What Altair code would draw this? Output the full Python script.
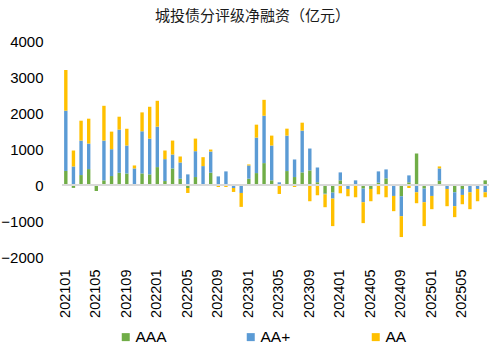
import altair as alt
import pandas as pd

months = [f"{y}{m:02d}" for y in (2021, 2022, 2023, 2024) for m in range(1, 13)] + \
         [f"2025{m:02d}" for m in range(1, 9)]

aaa = [390, -80, 276, 442, -166, 129, 249, 341, 322, 0, 322, 295,
       497, 110, 460, 175, -83, 221, 0, 341, 0, 0, 0, -25,
       175, 331, 608, 129, 0, 387, 221, 350, 405, 74, -240, -212,
       129, 0, 0, -101, -110, 64, 184, 0, -313, 74, 875, -101,
       0, 120, 0, -203, -110, 0, 0, 129]
aa_plus = [1675, 515, 958, 709, 0, 1105, 745, 1197, 774, 460, 1170, 994,
           1124, 608, 387, 451, 295, 718, 525, 589, 239, 378, -83, -196,
           368, 986, 1316, 967, 74, 985, 488, 1160, 608, 414, -20, -166,
           221, -110, 129, -378, 0, 314, 249, -304, -553, 193, -203, -378,
           -304, 340, -110, -386, -166, -203, -110, -203]
aa = [1130, 443, 552, 691, 0, 966, 489, 359, 469, 83, 525, 884,
      718, 240, 387, 166, -138, 350, 248, 55, -55, -55, -110, -387,
      28, 359, 442, 276, -249, 193, -55, 221, -451, -285, -357, -764,
      -230, -203, -341, -580, -341, -258, -341, -423, -580, -83, -303, -663,
      -368, 56, -479, -304, -258, -469, -341, -138]

series = ["AAA", "AA+", "AA"]
colors = ["#70AD47", "#5B9BD5", "#FFC000"]
tick_labels = months[::4]
y_ticks = [-2000, -1000, 0, 1000, 2000, 3000, 4000]

rows = []
for i, m in enumerate(months):
    for k, (name, vals) in enumerate(zip(series, [aaa, aa_plus, aa])):
        rows.append({"month": m, "series": name, "value": vals[i], "order": k})
df = pd.DataFrame(rows)

y_axis = alt.Axis(title=None, values=y_ticks, format="d", tickCount=7,
                  grid=False, ticks=False, domain=False,
                  labelFontSize=15, labelFont="Liberation Sans",
                  labelColor="#000000", labelPadding=19,
                  labelOverlap=False, labelBound=False)
y_scale = alt.Scale(domain=[-2000, 4000], nice=False)

bars = alt.Chart(df).mark_bar(width=3.4).encode(
    x=alt.X("month:O", sort=months,
            scale=alt.Scale(paddingInner=0, paddingOuter=0),
            axis=alt.Axis(title=None, values=tick_labels, labelAngle=270,
                          labelFontSize=14.5, labelFont="Liberation Sans",
                          labelColor="#000000", ticks=False, domain=False,
                          labelPadding=12, labelBaseline="middle",
                          labelOverlap=False)),
    y=alt.Y("value:Q", stack="zero", scale=y_scale, axis=y_axis),
    color=alt.Color("series:N", sort=series,
                    scale=alt.Scale(domain=series, range=colors),
                    legend=alt.Legend(title=None, orient="none", direction="horizontal",
                                      legendX=56, legendY=288, symbolType="square",
                                      symbolSize=64, symbolStrokeWidth=0,
                                      labelFontSize=15.5, labelFont="Liberation Sans",
                                      labelColor="#000000", gridAlign="all",
                                      columnPadding=76, labelOffset=2, padding=0)),
    order=alt.Order("order:Q", sort="ascending"),
)

zero = alt.Chart(pd.DataFrame({"y": [0]})).mark_rule(color="#D9D9D9", strokeWidth=2).encode(
    y=alt.Y("y:Q", scale=y_scale, axis=y_axis)
)

chart = alt.layer(bars, zero).properties(
    width=427, height=216,
    title=alt.TitleParams("城投债分评级净融资（亿元）", font="Noto Sans CJK SC",
                          fontSize=15, fontWeight="normal", color="#1a1a1a",
                          anchor="middle", dx=-23, offset=10),
    autosize=alt.AutoSizeParams(type="none"),
    padding={"left": 62, "top": 41, "right": 1, "bottom": 97},
    background="white",
).configure_view(stroke=None, strokeWidth=0)

chart.save("out.html", embed_options={"renderer": "svg", "actions": False})
